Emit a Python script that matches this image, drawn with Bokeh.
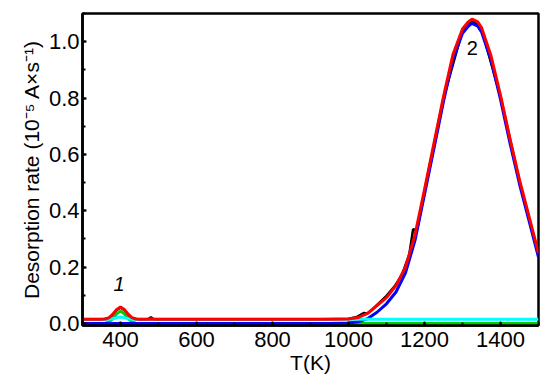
from bokeh.plotting import figure
from bokeh.models import Range1d, SingleIntervalTicker, CustomJSTickFormatter
from bokeh.core.properties import value
from bokeh.embed import file_html
from bokeh.resources import INLINE

# Temperature grid (K) for fitted curves
T = [300, 340, 350, 360, 370, 380, 390, 400, 410, 420,
     430, 440, 450, 460, 500, 600, 700, 800, 900, 950,
     1000, 1025, 1050, 1075, 1100, 1125, 1150, 1175, 1200, 1225,
     1250, 1275, 1300, 1315, 1325, 1340, 1350, 1375, 1400, 1425,
     1450, 1475, 1500]

# total fit (red)
fit_total = [0.015, 0.015, 0.015, 0.016, 0.021, 0.033, 0.050, 0.059, 0.050, 0.033,
             0.021, 0.016, 0.015, 0.015, 0.015, 0.015, 0.015, 0.015, 0.015, 0.015,
             0.016, 0.021, 0.036, 0.064, 0.092, 0.135, 0.200, 0.315, 0.475, 0.640,
             0.805, 0.955, 1.045, 1.070, 1.080, 1.070, 1.050, 0.950, 0.810, 0.655,
             0.510, 0.380, 0.250]

# peak 2 component (blue)
peak2 = [0, 0, 0, 0, 0, 0, 0, 0, 0, 0,
         0, 0, 0, 0, 0, 0, 0, 0, 0, 0,
         0.002, 0.006, 0.017, 0.040, 0.070, 0.112, 0.180, 0.295, 0.458, 0.622,
         0.788, 0.938, 1.030, 1.055, 1.065, 1.055, 1.035, 0.935, 0.795, 0.640,
         0.495, 0.365, 0.235]

# peak 1 component (green)
peak1 = [0, 0, 0, 0.001, 0.006, 0.018, 0.035, 0.044, 0.035, 0.018,
         0.006, 0.001, 0, 0, 0, 0, 0, 0, 0, 0,
         0, 0, 0, 0, 0, 0, 0, 0, 0, 0,
         0, 0, 0, 0, 0, 0, 0, 0, 0, 0,
         0, 0, 0]

# background component (cyan)
background = [0.015, 0.015, 0.015, 0.015, 0.015, 0.017, 0.021, 0.023, 0.021, 0.017,
              0.015, 0.015, 0.015, 0.015, 0.015, 0.015, 0.015, 0.015, 0.015, 0.015,
              0.015, 0.015, 0.015, 0.015, 0.015, 0.015, 0.015, 0.015, 0.015, 0.015,
              0.015, 0.015, 0.015, 0.015, 0.015, 0.015, 0.015, 0.015, 0.015, 0.015,
              0.015, 0.015, 0.015]

# experimental data (black)
T_exp = [300, 350, 370, 380, 390, 400, 410, 420, 430, 450,
         470, 480, 490, 500, 600, 700, 800, 900, 1000, 1020,
         1040, 1050, 1060, 1080, 1100, 1120, 1140, 1160, 1170, 1180,
         1200, 1250, 1300, 1325, 1350, 1400, 1450, 1500]
rate_exp = [0.014, 0.014, 0.019, 0.031, 0.048, 0.056, 0.048, 0.031, 0.019, 0.014,
            0.014, 0.022, 0.014, 0.014, 0.014, 0.014, 0.014, 0.014, 0.017, 0.022,
            0.037, 0.036, 0.046, 0.072, 0.098, 0.130, 0.170, 0.245, 0.335, 0.330,
            0.470, 0.800, 1.040, 1.075, 1.045, 0.805, 0.505, 0.245]

peak_labels = ["1", "2"]
peak_label_T = [396, 1326]
peak_label_v = [0.141, 0.976]

p = figure(width=546, height=376, output_backend="svg", toolbar_location=None,
           x_range=Range1d(300, 1500), y_range=Range1d(-0.007, 1.1),
           min_border_left=82, min_border_right=8, min_border_top=13,
           min_border_bottom=51)

p.line(T_exp, rate_exp, line_color="black", line_width=2.5)
p.line(T, peak1, line_color="#00cc00", line_width=3)
p.line(T, peak2, line_color="#0000ff", line_width=3)
p.line(T, background, line_color="#00ffff", line_width=3)
p.line(T, fit_total, line_color="#ff0000", line_width=3)

p.text(x=peak_label_T[:1], y=peak_label_v[:1], text=peak_labels[:1],
       text_font=value("Liberation Sans"), text_font_style="italic",
       text_font_size="20px", text_align="center", text_baseline="middle",
       text_color="black")
p.text(x=peak_label_T[1:], y=peak_label_v[1:], text=peak_labels[1:],
       text_font=value("Liberation Sans"),
       text_font_size="20px", text_align="center", text_baseline="middle",
       text_color="black")

p.xgrid.visible = False
p.ygrid.visible = False
p.outline_line_color = "black"
p.outline_line_width = 2.5
p.outline_line_alpha = 1

p.xaxis.ticker = SingleIntervalTicker(interval=200, num_minor_ticks=2)
p.yaxis.ticker = SingleIntervalTicker(interval=0.2, num_minor_ticks=2)

for ax in (p.xaxis[0], p.yaxis[0]):
    ax.axis_line_color = "black"
    ax.axis_line_width = 2.5
    ax.major_tick_in = 4
    ax.major_tick_out = 0
    ax.minor_tick_in = 3
    ax.minor_tick_out = 0
    ax.major_tick_line_width = 2
    ax.minor_tick_line_width = 2
    ax.major_tick_line_color = "black"
    ax.minor_tick_line_color = "black"
    ax.major_label_text_font = "Liberation Sans"
    ax.major_label_text_font_size = "22px"
    ax.major_label_text_color = "black"
    ax.axis_label_text_font = "Liberation Sans"
    ax.axis_label_text_font_style = "normal"
    ax.axis_label_text_font_size = "21px"
    ax.axis_label_text_color = "black"

p.yaxis.formatter = CustomJSTickFormatter(code="return tick.toFixed(1);")

p.xaxis.axis_label = "T(K)"
p.yaxis.axis_label = "Desorption rate (10\u207b\u2075 A\u00d7s\u207b\u00b9)"
p.xaxis.major_label_standoff = 6
p.yaxis.major_label_standoff = 3
p.xaxis.axis_label_standoff = 1
p.yaxis.axis_label_standoff = 3

open("out.html", "w").write(file_html(p, INLINE))
